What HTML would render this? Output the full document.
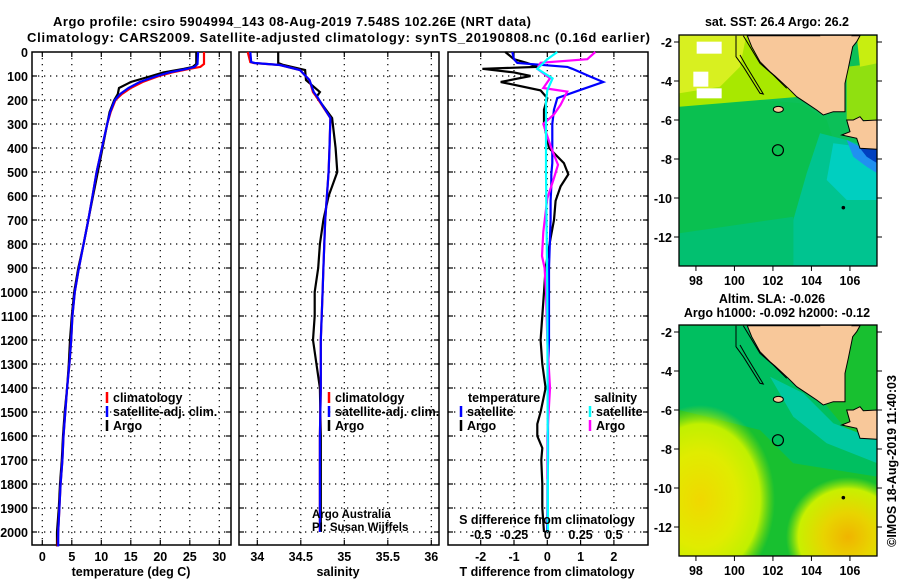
<!DOCTYPE html>
<html><head><meta charset="utf-8"><style>
html,body{margin:0;padding:0;background:#fff;}
svg{display:block;font-family:"Liberation Sans",sans-serif;}
.t{font-weight:bold;font-size:13px;fill:#000;}
.tk{font-weight:bold;font-size:12.5px;fill:#000;}
</style></head><body>
<svg id="fig" width="900" height="580" viewBox="0 0 900 580" xmlns="http://www.w3.org/2000/svg">
<text class="t" x="53" y="26" font-size="14" textLength="478">Argo profile: csiro 5904994_143 08-Aug-2019 7.548S 102.26E (NRT data)</text>
<text class="t" x="27" y="42" font-size="14" textLength="623">Climatology: CARS2009. Satellite-adjusted climatology: synTS_20190808.nc (0.16d earlier)</text>
<g id="panels"></g>
<g id="maps"></g>
</svg>
<script>
// ---- temperature profile data ----
const tDepth = [0,50,62,70,85,100,125,150,175,200,250,300,400,500,600,700,800,900,1000,1100,1200,1300,1400,1500,1600,1700,1800,1900,2000,2060];
const tClim  = [27.4,27.4,26.8,25.0,22.0,19.8,17.0,15.0,13.5,12.4,11.6,11.0,10.1,9.2,8.5,7.8,7.0,6.2,5.5,5.1,4.9,4.6,4.2,3.9,3.6,3.4,3.1,2.9,2.7,2.6];
const tSat   = [26.4,26.3,25.8,24.5,21.5,19.4,16.5,14.6,13.2,12.3,11.5,11.0,10.1,9.2,8.5,7.8,7.0,6.2,5.5,5.1,4.9,4.6,4.2,3.9,3.6,3.4,3.1,2.9,2.7,2.7];
const tArgo  = [26.1,26.1,25.5,24.0,20.5,18.5,15.0,13.0,12.8,12.2,11.4,11.0,10.2,9.4,8.6,7.8,7.0,6.1,5.4,5.0,4.7,4.5,4.2,3.8,3.5,3.3,3.0,2.8,2.5,2.5];
// ---- salinity profile data ----
const sDepth = [0,42,46,54,75,117,167,187,275,400,500,600,700,800,900,1000,1100,1200,1400,1600,1800,2000];
const sClim  = [33.89,33.92,33.96,34.26,34.49,34.6,34.64,34.68,34.84,34.83,34.82,34.80,34.78,34.77,34.76,34.75,34.74,34.73,34.73,34.72,34.72,34.72];
const sSat   = [33.92,33.93,33.97,34.26,34.49,34.6,34.65,34.69,34.84,34.83,34.82,34.80,34.78,34.77,34.76,34.75,34.74,34.73,34.73,34.72,34.72,34.72];
const sArgo  = [34.24,34.24,34.24,34.3,34.55,34.56,34.72,34.68,34.86,34.90,34.92,34.82,34.76,34.72,34.70,34.66,34.66,34.64,34.72,34.73,34.73,34.73];
// ---- difference data ----
const dDepth   = [0,30,46,62,70,85,100,125,160,192,240,300,400,463,510,560,620,700,775,900,1000,1100,1200,1300,1400,1500,1550,1600,1650,1700,1800,1900,2000];
const dTArgo   = [-1.26,-1.0,-0.6,-0.3,-1.95,-1.0,-0.5,-1.4,-0.2,0.0,-0.1,-0.1,0.05,0.5,0.63,0.4,0.25,0.2,0.1,-0.05,-0.1,-0.15,-0.2,-0.15,-0.05,-0.2,-0.3,-0.3,-0.15,-0.18,-0.15,-0.15,-0.1];
const dTSat    = [-1.05,-1.0,-0.9,0.6,0.75,1.0,1.25,1.68,0.95,0.3,0.2,0.15,0.15,0.15,0.12,0.12,0.1,0.1,0.08,0.05,0.05,0.05,0.05,0.03,0.02,0.02,0.02,0.02,0.02,0.02,0.01,0.01,0.0];
const dsDepth  = [0,30,45,70,110,150,165,220,260,300,400,470,525,610,750,850,900,1000,1200,1400,1600,1780];
const dSArgo   = [0.36,0.3,-0.05,-0.075,0.02,-0.03,0.15,0.1,0.05,-0.03,0.03,0.08,0.05,0.0,-0.03,-0.04,-0.02,-0.01,0.0,0.02,0.0,0.0];
const dssDepth = [0,30,70,110,160,206,500,1000,2000];
const dSSat    = [0.075,0.0,-0.075,0.04,0.0,-0.01,-0.01,0.0,0.005];
// ---- ticks ----
const depthTicks = [0,100,200,300,400,500,600,700,800,900,1000,1100,1200,1300,1400,1500,1600,1700,1800,1900,2000];
const tempTicks = [0,5,10,15,20,25,30];
const salTicks = [34,34.5,35,35.5,36];
const dTTicks = [-2,-1,0,1,2];
const dSTicks = [-0.5,-0.25,0,0.25,0.5];
const lonTicks = [98,100,102,104,106];
const latTicks = [-2,-4,-6,-8,-10,-12];

const NS='http://www.w3.org/2000/svg';
function mk(tag, attrs, parent){const e=document.createElementNS(NS,tag);for(const k in attrs)e.setAttribute(k,attrs[k]);(parent||document.getElementById('fig')).appendChild(e);return e;}
const yD = d => 52 + d*0.24;
const xT = v => 42.3 + v*5.9;
const xS = v => 257.3 + (v-34)*87;
const xDT = v => 547.3 + v*33.3;
const xDS = v => 547.3 + v*133.2;
const P = document.getElementById('panels');

function panel(name,x0,x1,gridXs){
  const g=mk('g',{},P);
  
  
  gridXs.forEach(x=>{mk('line',{x1:x,x2:x,y1:52,y2:545,stroke:'#000','stroke-width':1.2,'stroke-dasharray':'1.3,4.7'},g);
    mk('line',{x1:x,x2:x,y1:52,y2:57,stroke:'#000','stroke-width':1.2},g);mk('line',{x1:x,x2:x,y1:540,y2:545,stroke:'#000','stroke-width':1.2},g);});
  depthTicks.slice(1).forEach(d=>{mk('line',{x1:x0,x2:x1,y1:yD(d),y2:yD(d),stroke:'#000','stroke-width':1.2,'stroke-dasharray':'1.3,4.7'},g);
    mk('line',{x1:x0,x2:x0+5,y1:yD(d),y2:yD(d),stroke:'#000','stroke-width':1.2},g);mk('line',{x1:x1-5,x2:x1,y1:yD(d),y2:yD(d),stroke:'#000','stroke-width':1.2},g);});
  mk('rect',{x:x0,y:52,width:x1-x0,height:493,fill:'none',stroke:'#000','stroke-width':1.5},g);
  return g;
}
function line(g,xs,ys,fx,color,name,w){
  const pts=xs.map((v,i)=>fx(v).toFixed(1)+','+yD(ys[i]).toFixed(1)).join(' ');
  const e=mk('polyline',{points:pts,fill:'none',stroke:color,'stroke-width':w||2.2,'stroke-linejoin':'miter'},g);
  
  
}
function txt(g,x,y,s,anchor,cls,extra){const e=mk('text',Object.assign({x:x,y:y,'text-anchor':anchor||'start',class:cls||'tk'},extra||{}),g);e.textContent=s;return e;}

// Panel 1 temperature
const g1=panel('temperature-panel',32,231,tempTicks.map(xT));
line(g1,tArgo,tDepth,xT,'#000','argo-temperature-line');
line(g1,tClim,tDepth,xT,'#f00','climatology-temperature-line');
line(g1,tSat,tDepth,xT,'#00f','satellite-temperature-line');
depthTicks.forEach(d=>{const e=txt(g1,28,yD(d)+5,String(d),'end');});
tempTicks.forEach(v=>{const e=txt(g1,xT(v),561,String(v),'middle');});
{const e=txt(g1,131,576,'temperature (deg C)','middle');}
function legend(g,x,y,color,label,name){mk('line',{x1:x,x2:x,y1:y-10,y2:y+1,stroke:color,'stroke-width':2.5},g);const e=txt(g,x+6,y,label,'start');}
legend(g1,107,402,'#f00','climatology','legend-entry-climatology');
legend(g1,107,416,'#00f','satellite-adj. clim.','legend-entry-satellite');
legend(g1,107,430,'#000','Argo','legend-entry-argo');

// Panel 2 salinity
const g2=panel('salinity-panel',239,439,salTicks.map(xS));
line(g2,sArgo,sDepth,xS,'#000','argo-salinity-line');
line(g2,sClim,sDepth,xS,'#f00','climatology-salinity-line');
line(g2,sSat,sDepth,xS,'#00f','satellite-salinity-line');
salTicks.forEach(v=>{const e=txt(g2,xS(v),561,String(v),'middle');});
{const e=txt(g2,338,576,'salinity','middle');}
legend(g2,329,402,'#f00','climatology','legend-entry-climatology');
legend(g2,329,416,'#00f','satellite-adj. clim.','legend-entry-satellite');
legend(g2,329,430,'#000','Argo','legend-entry-argo');
{const e=txt(g2,312,518,'Argo Australia','start','',{style:'font-size:11.5px'});}
{const e=txt(g2,312,531,'PI: Susan Wijffels','start','',{style:'font-size:11.5px'});}

// Panel 3 differences
const g3=panel('difference-panel',448,648,dTTicks.map(xDT));
line(g3,dTArgo,dDepth,xDT,'#000','argo-temperature-difference-line');
line(g3,dTSat,dDepth,xDT,'#00f','satellite-temperature-difference-line');
line(g3,dSArgo,dsDepth,xDS,'#f0f','argo-salinity-difference-line');
line(g3,dSSat,dssDepth,xDS,'#0ff','satellite-salinity-difference-line');
dTTicks.forEach(v=>{const e=txt(g3,xDT(v),561,String(v),'middle');});
dSTicks.forEach(v=>{const e=txt(g3,xDS(v),539,String(v),'middle');});
{const e=txt(g3,547,524,'S difference from climatology','middle');}
{const e=txt(g3,547,576,'T difference from climatology','middle');}
{const e=txt(g3,468,402,'temperature','start');}
legend(g3,461,416,'#00f','satellite','legend-entry-t-satellite');
legend(g3,461,430,'#000','Argo','legend-entry-t-argo');
{const e=txt(g3,594,402,'salinity','start');}
legend(g3,590,416,'#0ff','satellite','legend-entry-s-satellite');
legend(g3,590,430,'#f0f','Argo','legend-entry-s-argo');

// ---- maps ----
const M=document.getElementById('maps');
const mx = lon => 679 + (lon-97.12)*19.25;
function map(name,yTop,kind){
  const g=mk('g',{},M);
  
  
  const my = lat => yTop+7 + (-2-lat)*19.5;
  const Z=(pts)=>pts.map(p=>(660+p[0]/3).toFixed(1)+','+(yTop-35+p[1]/3).toFixed(1)).join(' ');
  const clipId='clip'+yTop;
  const cp=mk('clipPath',{id:clipId},g);mk('rect',{x:679,y:yTop,width:198,height:231},cp);
  const b=mk('g',{'clip-path':'url(#'+clipId+')'},g);
  if(kind==='sst'){
    mk('rect',{x:679,y:yTop,width:198,height:231,fill:'#0cc058'},b);
    mk('polygon',{points:Z([[58,320],[300,300],[420,310],[500,360],[520,420],[470,520],[420,640],[400,800],[58,800]]),fill:'#0ac050'},b);
    mk('polygon',{points:Z([[58,700],[400,650],[400,800],[58,800]]),fill:'#02c070'},b);
    mk('polygon',{points:Z([[480,400],[560,420],[652,450],[652,800],[400,800],[400,660],[440,520]]),fill:'#00c490'},b);
    mk('polygon',{points:Z([[520,430],[600,440],[652,450],[652,600],[560,600],[500,540]]),fill:'#00cfc0'},b);
    mk('polygon',{points:Z([[560,420],[600,440],[652,450],[652,520],[620,500],[580,470]]),fill:'#2090f0'},b);
    mk('polygon',{points:Z([[600,445],[652,448],[652,490],[620,470]]),fill:'#0040c0'},b);
    mk('polygon',{points:Z([[58,100],[360,100],[360,240],[420,290],[58,320]]),fill:'#a8e800'},b);
    mk('polygon',{points:Z([[58,100],[260,100],[240,200],[180,260],[58,280]]),fill:'#d8f020'},b);
    mk('rect',{x:660+100/3,y:yTop-35+215/3,width:15,height:15,fill:'#fff'},b);
    mk('rect',{x:660+110/3,y:yTop-35+265/3,width:25,height:10,fill:'#fff'},b);
    mk('rect',{x:660+110/3,y:yTop-35+125/3,width:25,height:12,fill:'#fff'},b);
    mk('polygon',{points:Z([[560,200],[652,190],[652,360],[560,360]]),fill:'#90e010'},b);
    mk('polygon',{points:Z([[590,107],[652,107],[652,190],[600,200]]),fill:'#c8ee10'},b);
  } else {
    mk('rect',{x:679,y:yTop,width:198,height:231,fill:'#18c030'},b);
    mk('polygon',{points:Z([[58,107],[300,107],[560,420],[652,440],[652,560],[400,520],[300,420],[58,360]]),fill:'#00bf60'},b);
    mk('polygon',{points:Z([[330,260],[430,310],[520,400],[652,450],[652,520],[500,460],[400,380]]),fill:'#00c8a0'},b);
    const rg=mk('radialGradient',{id:'yb1'},b);mk('stop',{offset:'0','stop-color':'#f0d800'},rg);mk('stop',{offset:'0.5','stop-color':'#e0ec00'},rg);mk('stop',{offset:'0.8','stop-color':'#c0f000'},rg);mk('stop',{offset:'1','stop-color':'#90e000','stop-opacity':'0'},rg);
    mk('ellipse',{cx:700,cy:500,rx:75,ry:95,fill:'url(#yb1)'},b);
    const rg2=mk('radialGradient',{id:'yb2'},b);mk('stop',{offset:'0','stop-color':'#f0b400'},rg2);mk('stop',{offset:'0.4','stop-color':'#e8d400'},rg2);mk('stop',{offset:'0.8','stop-color':'#c8f000'},rg2);mk('stop',{offset:'1','stop-color':'#a0e800','stop-opacity':'0'},rg2);
    mk('ellipse',{cx:848,cy:537,rx:62,ry:60,fill:'url(#yb2)'},b);
  }
  // land
  const sum=[[262,107],[275,140],[300,185],[330,215],[345,228],[385,265],[410,290],[440,310],[470,330],[490,345],[520,335],[555,335],[555,250],[565,205],[578,140],[590,125],[600,107]];
  const land1=mk('polygon',{points:Z(sum),fill:'#f8c89a',stroke:'#000','stroke-width':1},b);
  
  const jav=[[560,360],[570,395],[545,405],[590,415],[600,445],[652,448],[652,360],[610,362],[600,350],[580,360]];
  const land2=mk('polygon',{points:Z(jav),fill:'#f8c89a',stroke:'#000','stroke-width':1},b);
  
  mk('polygon',{points:Z([[480,107],[500,140],[540,150],[560,130],[575,107]]),fill:'#f8c89a'},b);
  mk('polyline',{points:Z([[228,107],[228,170],[250,200],[300,280],[310,282],[260,200],[240,165]]),fill:'none',stroke:'#000','stroke-width':1},b);
  mk('polyline',{points:Z([[250,107],[300,190],[340,225],[380,265]]),fill:'none',stroke:'#000','stroke-width':1},b);
  mk('ellipse',{cx:660+355/3,cy:yTop-35+328/3,rx:5,ry:3,fill:'#f8c89a',stroke:'#000','stroke-width':1},b);
  mk('circle',{cx:660+550/3,cy:yTop-35+623/3,r:1.8,fill:'#000'},b);
  const c=mk('circle',{cx:mx(102.26),cy:my(-7.548),r:5.5,fill:'none',stroke:'#000','stroke-width':1.2},b);
  
  mk('rect',{x:679,y:yTop,width:198,height:231,fill:'none',stroke:'#000','stroke-width':1.3},g);
  latTicks.forEach(l=>{mk('line',{x1:674,x2:679,y1:my(l),y2:my(l),stroke:'#000'},g);mk('line',{x1:877,x2:882,y1:my(l),y2:my(l),stroke:'#000'},g);
    const e=txt(g,672,my(l)+5,String(l),'end');});
  lonTicks.forEach(l=>{mk('line',{x1:mx(l),x2:mx(l),y1:yTop+231,y2:yTop+236,stroke:'#000'},g);
    const e=txt(g,mx(l),yTop+250,String(l),'middle');});
  return g;
}
const m1=map('sst-map',35,'sst');
{const e=txt(m1,777,26,'sat. SST: 26.4 Argo: 26.2','middle');}
const m2=map('sla-map',325,'sla');
{const e=txt(m2,772,303,'Altim. SLA: -0.026','middle');}
{const e=txt(m2,777,317,'Argo h1000: -0.092 h2000: -0.12','middle');}
{const e=txt(M,0,0,'©IMOS 18-Aug-2019 11:40:03','middle','',{transform:'translate(896,461) rotate(-90)',style:'font-size:12.5px'});}
</script>
</body></html>
